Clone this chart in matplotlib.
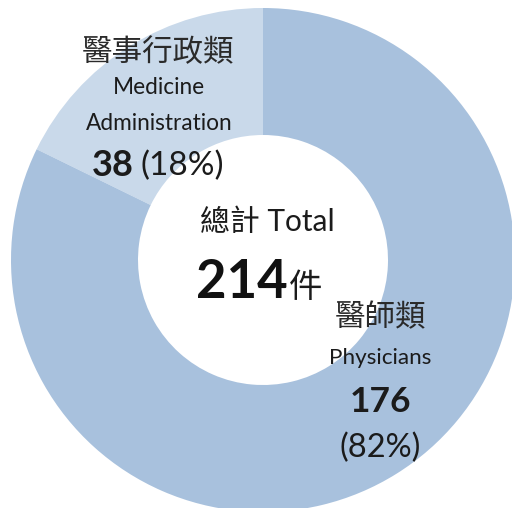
import matplotlib
matplotlib.use("Agg")
import matplotlib.pyplot as plt

# Data
categories_zh = ["醫事行政類", "醫師類"]
categories_en = ["Medicine\nAdministration", "Physicians"]
values = [38, 176]
colors = ["#C9D9EA", "#A8C1DD"]
total_label_zh = "總計"
total_label_en = "Total"
unit = "件"

W, H = 512, 508
fig = plt.figure(figsize=(W / 100, H / 100), dpi=100)
ax = fig.add_axes([0, 0, 1, 1])

def py(y):
    return H - y

ax.pie(values, startangle=90, counterclock=True, colors=colors,
       radius=252, center=(263, py(260)),
       wedgeprops=dict(width=127, edgecolor="none", linewidth=0))
ax.set_xlim(0, W)
ax.set_ylim(0, H)
ax.set_aspect("equal")
ax.set_axis_off()

total = sum(values)
pcts = [round(v / total * 100) for v in values]

CJK = ["Noto Sans CJK TC"]
LAT = ["Lato", "Noto Sans CJK TC"]
tc = "#1b1b1b"

# Administration label
ax.text(158, py(53), categories_zh[0], family=CJK, fontsize=22, color="#2a2a2a",
        ha="center", va="center")
en0 = categories_en[0].split("\n")
ax.text(159, py(88), en0[0], family=LAT, fontsize=16.3, color=tc, ha="center", va="center")
ax.text(159, py(123), en0[1], family=LAT, fontsize=16.3, color=tc, ha="center", va="center")
ax.text(134, py(166), f"{values[0]}", family=LAT, fontsize=26, fontweight="bold",
        color=tc, ha="right", va="center")
ax.text(141, py(166), f"({pcts[0]}%)", family=LAT, fontsize=24, color=tc,
        ha="left", va="center")

# Center total
ax.text(267, py(222), f"{total_label_zh} {total_label_en}", family=["Lato", "Noto Sans CJK TC"],
        fontsize=21.5, color=tc, ha="center", va="center")
ax.text(288, py(283), f"{total}", family=LAT, fontsize=38, fontweight="bold",
        color="#111111", ha="right", va="center")
ax.text(289, py(288), unit, family=CJK, fontsize=24, color=tc, ha="left", va="center")

# Physicians label
ax.text(380, py(318), categories_zh[1], family=CJK, fontsize=22, color="#2a2a2a",
        ha="center", va="center")
ax.text(380, py(358), categories_en[1], family=LAT, fontsize=16.2, color=tc,
        ha="center", va="center")
ax.text(380, py(402), f"{values[1]}", family=LAT, fontsize=25.5, fontweight="bold",
        color=tc, ha="center", va="center")
ax.text(380, py(448), f"({pcts[1]}%)", family=LAT, fontsize=23.5, color=tc,
        ha="center", va="center")

fig.savefig("out.png", dpi=100)
